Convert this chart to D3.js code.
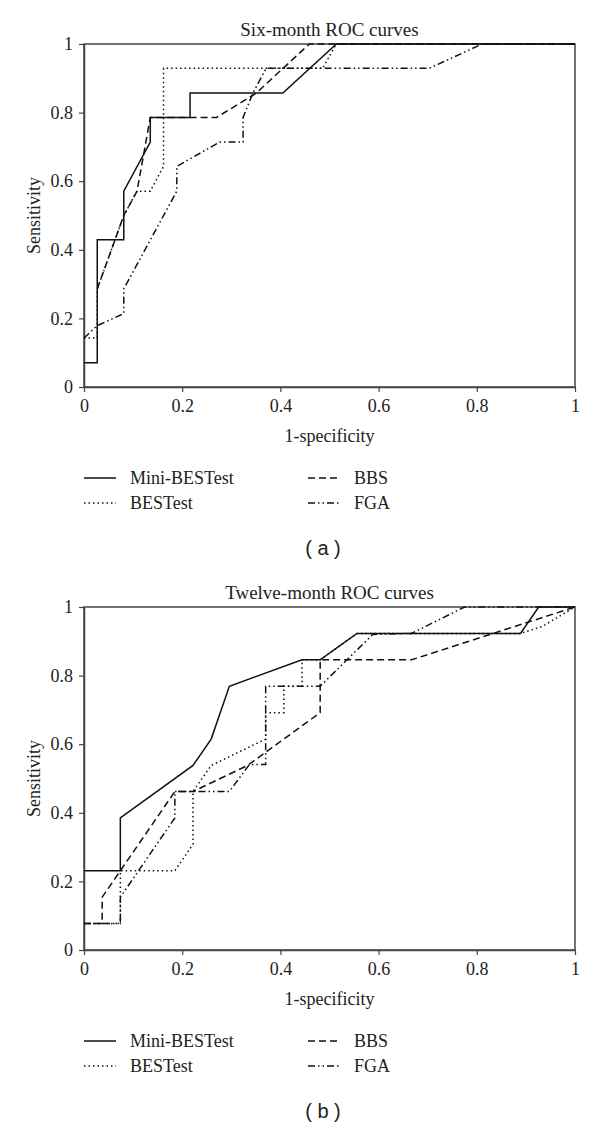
<!DOCTYPE html>
<html>
<head>
<meta charset="utf-8">
<script src="https://cdn.jsdelivr.net/npm/d3@7"></script>
<style>
  body { margin: 0; background: #fff; }
  svg { display: block; }
  text { font-family: "Liberation Serif", "Times New Roman", serif; fill: #222; }
</style>
</head>
<body>
<script>
// ---- data ----
var seriesNames = ["Mini-BESTest", "BESTest", "BBS", "FGA"];
var tickValues = [0, 0.2, 0.4, 0.6, 0.8, 1];
var tickLabels = ["0", "0.2", "0.4", "0.6", "0.8", "1"];

// six-month
var sixMiniX = [0, 0.027, 0.027, 0.081, 0.081, 0.135, 0.135, 0.216, 0.216, 0.405, 0.514, 1];
var sixMiniY = [0.071, 0.071, 0.429, 0.429, 0.571, 0.714, 0.786, 0.786, 0.857, 0.857, 1, 1];
var sixBestX = [0, 0.027, 0.027, 0.081, 0.108, 0.135, 0.162, 0.162, 0.486, 0.514, 1];
var sixBestY = [0.143, 0.143, 0.286, 0.5, 0.571, 0.571, 0.643, 0.929, 0.929, 1, 1];
var sixBbsX = [0.027, 0.081, 0.108, 0.135, 0.27, 0.351, 0.459, 1];
var sixBbsY = [0.286, 0.5, 0.571, 0.786, 0.786, 0.857, 1, 1];
var sixFgaX = [0, 0.027, 0.081, 0.081, 0.189, 0.189, 0.276, 0.324, 0.324, 0.344, 0.371, 0.703, 0.811, 1];
var sixFgaY = [0.143, 0.179, 0.214, 0.286, 0.571, 0.643, 0.714, 0.714, 0.786, 0.857, 0.929, 0.929, 1, 1];

// twelve-month
var twMiniX = [0, 0.074, 0.074, 0.222, 0.259, 0.296, 0.444, 0.481, 0.556, 0.889, 0.926, 1];
var twMiniY = [0.231, 0.231, 0.385, 0.538, 0.615, 0.769, 0.846, 0.846, 0.923, 0.923, 1, 1];
var twBestX = [0, 0.074, 0.074, 0.185, 0.222, 0.222, 0.259, 0.370, 0.370, 0.407, 0.407, 0.444, 0.444, 0.481, 0.556, 0.889, 0.933, 1];
var twBestY = [0.077, 0.077, 0.231, 0.231, 0.308, 0.462, 0.538, 0.615, 0.692, 0.692, 0.769, 0.769, 0.846, 0.846, 0.923, 0.923, 0.943, 1];
var twBbsX = [0, 0.037, 0.037, 0.185, 0.222, 0.333, 0.481, 0.481, 0.667, 1];
var twBbsY = [0.077, 0.077, 0.154, 0.462, 0.462, 0.538, 0.692, 0.846, 0.846, 1];
var twFgaX = [0, 0.074, 0.074, 0.185, 0.185, 0.296, 0.337, 0.37, 0.37, 0.481, 0.588, 0.667, 0.775, 1];
var twFgaY = [0.077, 0.077, 0.154, 0.385, 0.462, 0.462, 0.541, 0.541, 0.769, 0.769, 0.92, 0.923, 1, 1];

var dashes = { "Mini-BESTest": null, "BESTest": "1.5,3", "BBS": "7,4", "FGA": "7,3,1.5,3,1.5,3" };

var panels = [
  { title: "Six-month ROC curves", tag: "( a )", top: 44,
    series: [[sixMiniX, sixMiniY], [sixBestX, sixBestY], [sixBbsX, sixBbsY], [sixFgaX, sixFgaY]] },
  { title: "Twelve-month ROC curves", tag: "( b )", top: 607,
    series: [[twMiniX, twMiniY], [twBestX, twBestY], [twBbsX, twBbsY], [twFgaX, twFgaY]] }
];

var W = 600, H = 1127;
var left = 84, plotW = 491, plotH = 343;
var serif = "'Liberation Serif', 'Times New Roman', serif";

var svg = d3.select("body").append("svg").attr("width", W).attr("height", H);

var x = d3.scaleLinear().domain([0, 1]).range([left, left + plotW]);

panels.forEach(function(p) {
  var y = d3.scaleLinear().domain([0, 1]).range([p.top + plotH, p.top]);
  var g = svg.append("g");

  // frame
  g.append("rect").attr("x", x(0)).attr("y", y(1))
    .attr("width", plotW).attr("height", plotH)
    .attr("fill", "none").attr("stroke", "#444").attr("stroke-width", 1.5);

  var xAxis = d3.axisBottom(x).tickValues(tickValues).tickSize(5).tickSizeOuter(0)
    .tickFormat(function(d, i) { return tickLabels[i]; });
  var yAxis = d3.axisLeft(y).tickValues(tickValues).tickSize(5).tickSizeOuter(0)
    .tickFormat(function(d, i) { return tickLabels[i]; });

  var xg = g.append("g").attr("transform", "translate(0," + (p.top + plotH) + ")").call(xAxis);
  var yg = g.append("g").attr("transform", "translate(" + left + ",0)").call(yAxis);
  [xg, yg].forEach(function(a) {
    a.attr("font-family", null).attr("font-size", null);
    a.select(".domain").attr("stroke", "#444").attr("stroke-width", 1.5);
    a.selectAll(".tick line").attr("stroke", "#444").attr("stroke-width", 1.2);
    a.selectAll(".tick text").style("font-family", serif).style("font-size", "18px").style("fill", "#222");
  });
  xg.selectAll(".tick text").attr("dy", "0.95em");
  yg.selectAll(".tick text").attr("x", -11);

  // curves
  var line = d3.line().x(function(d) { return x(d[0]); }).y(function(d) { return y(d[1]); });
  p.series.forEach(function(s, i) {
    var pts = d3.zip(s[0], s[1]);
    g.append("path").datum(pts).attr("d", line)
      .attr("fill", "none").attr("stroke", "#111").attr("stroke-width", 1.5)
      .attr("stroke-dasharray", dashes[seriesNames[i]]);
  });

  // titles
  g.append("text").attr("x", x(0.5)).attr("y", p.top - 8).attr("text-anchor", "middle")
    .style("font-size", "19px").text(p.title);
  g.append("text").attr("x", x(0.5)).attr("y", p.top + plotH + 55).attr("text-anchor", "middle")
    .style("font-size", "18px").text("1-specificity");
  g.append("text").attr("transform", "translate(40," + y(0.5) + ") rotate(-90)")
    .attr("text-anchor", "middle").style("font-size", "18px").text("Sensitivity");

  // legend
  var legPos = [[84, 0], [84, 1], [308, 0], [308, 1]];
  seriesNames.forEach(function(n, i) {
    var lx = legPos[i][0], ly = p.top + plotH + 91 + legPos[i][1] * 25;
    g.append("line").attr("x1", lx).attr("x2", lx + 32).attr("y1", ly).attr("y2", ly)
      .attr("stroke", "#111").attr("stroke-width", 1.5).attr("stroke-dasharray", dashes[n]);
    g.append("text").attr("x", lx + 46).attr("y", ly + 6).style("font-size", "18px").text(n);
  });

  g.append("text").attr("x", 323).attr("y", p.top + plotH + 168).attr("text-anchor", "middle")
    .style("font-family", "'Liberation Sans', Arial, sans-serif").style("font-size", "20px").text(p.tag);
});
</script>
</body>
</html>
